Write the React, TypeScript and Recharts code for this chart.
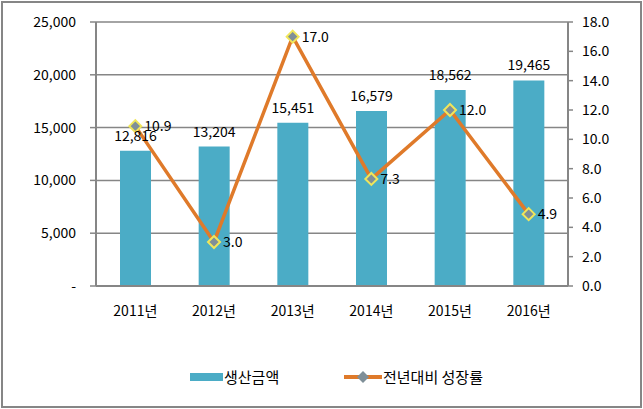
import React from "react";
import {
  ComposedChart,
  Bar,
  Line,
  XAxis,
  YAxis,
  CartesianGrid,
  LabelList,
} from "recharts";

const years = ["2011년", "2012년", "2013년", "2014년", "2015년", "2016년"];
const production = [12816, 13204, 15451, 16579, 18562, 19465];
const growth = [10.9, 3.0, 17.0, 7.3, 12.0, 4.9];
const leftTicks = [0, 5000, 10000, 15000, 20000, 25000];
const rightTicks = [0, 2, 4, 6, 8, 10, 12, 14, 16, 18];

const data = years.map((year, i) => ({
  year,
  production: production[i],
  growth: growth[i],
}));

const FONT = "'Malgun Gothic', 'Noto Sans CJK KR', sans-serif";
const GRAY = "#868686";
const TEAL = "#4BACC6";
const ORANGE = "#DF7A2A";

function Diamond(props: any) {
  const { cx, cy } = props;
  if (cx == null || cy == null) return null;
  const r = 6;
  return (
    <path
      d={`M${cx},${cy - r} L${cx + r},${cy} L${cx},${cy + r} L${cx - r},${cy} Z`}
      fill="#7F8F98"
      stroke="#F0E65A"
      strokeWidth={2}
    />
  );
}

export default function App() {
  return (
    <div
      style={{
        position: "absolute",
        left: 0,
        top: 0,
        width: 643,
        height: 409,
        background: "#fff",
        fontFamily: FONT,
      }}
    >
      <ComposedChart
        width={643}
        height={409}
        data={data}
        margin={{ top: 22, right: 25, left: 30, bottom: 83 }}
      >
        <CartesianGrid
          yAxisId="left"
          vertical={false}
          stroke={GRAY}
          strokeWidth={1.5}
        />
        <XAxis
          dataKey="year"
          height={40}
          tickLine={false}
          axisLine={{ stroke: GRAY, strokeWidth: 2 }}
          tick={{ fill: "#000", fontSize: 14, fontFamily: FONT }}
          tickMargin={14}
        />
        <YAxis
          yAxisId="left"
          width={66}
          domain={[0, 25000]}
          ticks={leftTicks}
          tickFormatter={(v: number) => (v === 0 ? "-" : v.toLocaleString("en-US"))}
          tickLine={{ stroke: GRAY, strokeWidth: 1.5 }}
          tickSize={6}
          tickMargin={14}
          axisLine={{ stroke: GRAY, strokeWidth: 2 }}
          tick={{ fill: "#000", fontSize: 14, fontFamily: FONT }}
        />
        <YAxis
          yAxisId="right"
          orientation="right"
          width={50}
          domain={[0, 18]}
          ticks={rightTicks}
          tickFormatter={(v: number) => v.toFixed(1)}
          tickLine={{ stroke: GRAY, strokeWidth: 1.5 }}
          tickSize={5}
          tickMargin={9}
          axisLine={{ stroke: GRAY, strokeWidth: 2 }}
          tick={{ fill: "#000", fontSize: 14, fontFamily: FONT }}
        />
        <Bar
          yAxisId="left"
          dataKey="production"
          fill={TEAL}
          barSize={31}
          isAnimationActive={false}
        >
          <LabelList
            dataKey="production"
            position="top"
            offset={10}
            formatter={(v: any) => Number(v).toLocaleString("en-US")}
            style={{ fill: "#000", fontSize: 14, fontFamily: FONT }}
          />
        </Bar>
        <Line
          yAxisId="right"
          type="linear"
          dataKey="growth"
          stroke={ORANGE}
          strokeWidth={3.5}
          dot={<Diamond />}
          activeDot={false}
          isAnimationActive={false}
        >
          <LabelList
            dataKey="growth"
            position="right"
            offset={9}
            formatter={(v: any) => Number(v).toFixed(1)}
            style={{ fill: "#000", fontSize: 14, fontFamily: FONT }}
          />
        </Line>
      </ComposedChart>

      <div
        style={{
          position: "absolute",
          top: 366,
          left: 0,
          width: 643,
          height: 22,
          fontSize: 15,
          color: "#000",
        }}
      >
        <div
          style={{
            position: "absolute",
            left: 190,
            top: 7,
            width: 33,
            height: 8,
            background: TEAL,
          }}
        />
        <div style={{ position: "absolute", left: 224, top: 0, lineHeight: "22px" }}>
          생산금액
        </div>
        <svg
          style={{ position: "absolute", left: 344, top: 0 }}
          width={38}
          height={22}
        >
          <line x1={0} y1={11} x2={38} y2={11} stroke={ORANGE} strokeWidth={4} />
          <path d="M19,5 L25,11 L19,17 L13,11 Z" fill="#7F8F98" />
        </svg>
        <div style={{ position: "absolute", left: 383, top: 0, lineHeight: "22px" }}>
          전년대비 성장률
        </div>
      </div>

      <div
        style={{
          position: "absolute",
          left: 1,
          top: 1,
          width: 641,
          height: 407,
          boxSizing: "border-box",
          border: `2px solid ${GRAY}`,
          pointerEvents: "none",
        }}
      />
    </div>
  );
}
